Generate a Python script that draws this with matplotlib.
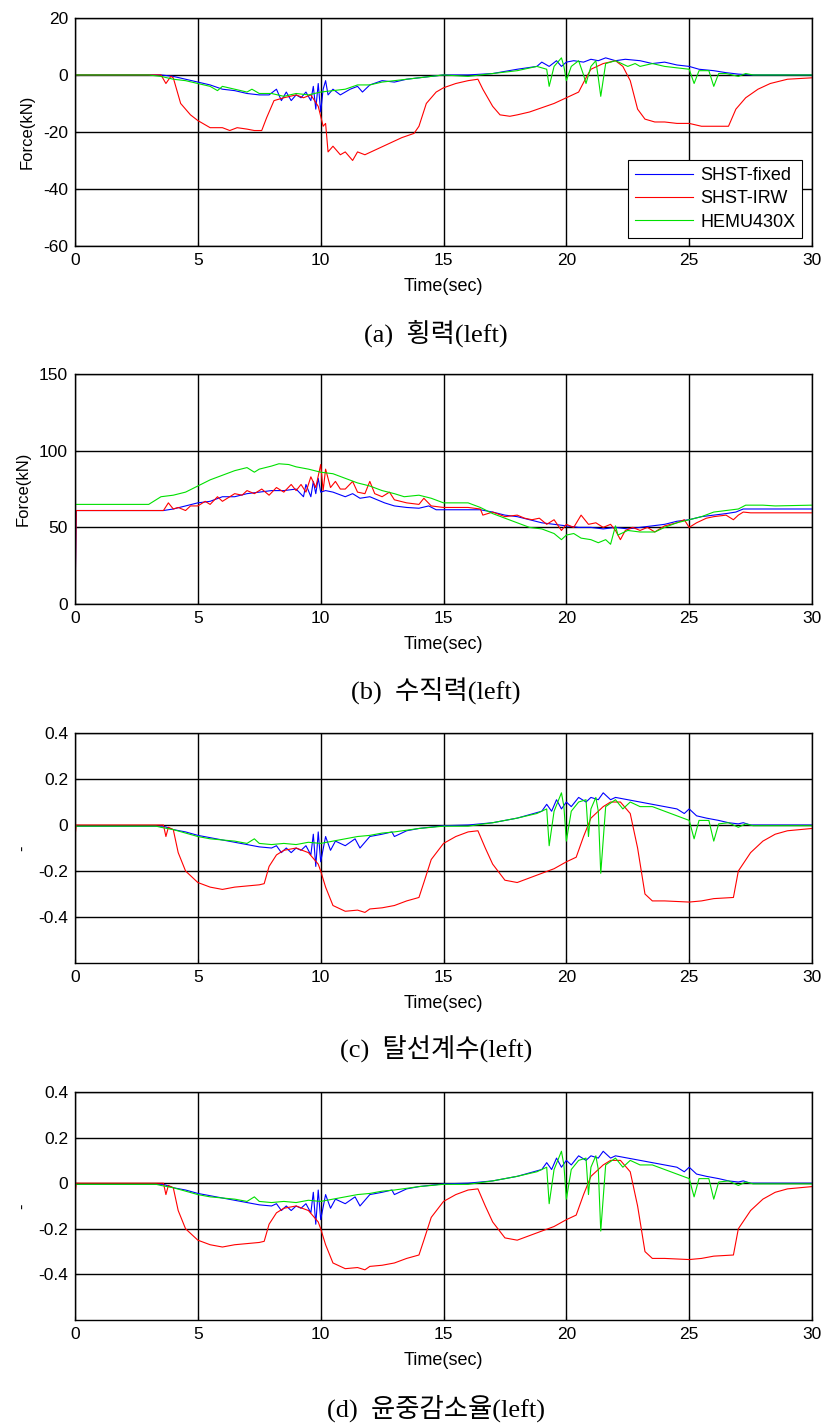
import numpy as np
import matplotlib.pyplot as plt

plt.rcParams['font.family'] = ['Liberation Sans', 'DejaVu Sans']

# (a) 횡력 - lateral force [kN]
t_a_fix = [0, 3.5, 4.0, 4.5, 5.0, 5.5, 6.0, 6.5, 7.0, 7.5, 7.9, 8.2, 8.4, 8.6, 8.8, 9.0, 9.2, 9.4, 9.6, 9.7,
           9.8, 9.9, 10.0, 10.1, 10.2, 10.3, 10.5, 10.8, 11.2, 11.5, 11.7, 12.0, 12.5, 13.0, 13.5, 14.0, 15.0,
           16.0, 17.0, 18.0, 18.8, 19.0, 19.3, 19.6, 19.8, 20.0, 20.3, 20.7, 21.0, 21.3, 21.6, 22.0, 22.4,
           23.0, 23.5, 24.0, 24.5, 25.0, 25.4, 26.0, 26.5, 27.0, 27.5, 30]
v_a_fix = [0, 0, -0.5, -1.5, -2.5, -3.5, -5, -5.5, -6.5, -7, -7, -5, -9, -6, -9, -7, -8, -6, -9, -4,
           -12, -3, -13, -5, -2, -7, -5, -7, -5, -4, -6, -3.5, -2, -2.5, -1.5, -1, 0,
           0, 0.5, 2, 3, 4.5, 3, 5, 3, 4.5, 5, 4.5, 5.5, 5, 6, 5, 5.5,
           5, 4, 4.5, 3.5, 3, 2, 1.5, 0.8, 0.3, 0, 0]
t_a_irw = [0, 3.5, 3.7, 3.9, 4.0, 4.3, 4.7, 5.0, 5.5, 6.0, 6.3, 6.6, 7.0, 7.3, 7.6, 7.8, 8.1, 8.5, 9.0, 9.3,
           9.6, 9.9, 10.1, 10.2, 10.3, 10.5, 10.8, 11.0, 11.3, 11.5, 11.8, 12.3, 12.8, 13.3, 13.8, 14.0,
           14.3, 14.7, 15.0, 15.5, 16.0, 16.4, 16.6, 17.0, 17.3, 17.7, 18.0, 18.5, 19.0, 19.5, 20.0, 20.5,
           20.8, 21.0, 21.5, 22.0, 22.3, 22.6, 22.9, 23.2, 23.6, 24.0, 24.5, 25.0, 25.5, 26.0, 26.6, 26.9,
           27.3, 27.8, 28.3, 29.0, 30]
v_a_irw = [0, 0, -3, -0.5, -1, -10, -14, -16, -18.5, -18.5, -19.5, -18.5, -19, -19.5, -19.5, -15, -9, -8, -7, -8,
           -7, -11, -18, -17, -27, -25, -28, -27, -30, -27, -28, -26, -24, -22, -20.5, -18,
           -10, -6, -4.5, -3, -2, -1.5, -5, -11, -14, -14.5, -14, -13, -11.5, -10, -8, -6,
           -1, 2, 4, 5, 3, -2, -12, -15.5, -16.5, -16.5, -17, -17, -18, -18, -18, -12,
           -8, -5, -3, -1.5, -1]
t_a_hemu = [0, 3.0, 3.5, 4.0, 4.5, 5.0, 5.5, 5.8, 6.0, 6.5, 7.0, 7.2, 7.5, 8.0, 8.5, 9.0, 9.5, 10.0, 10.5, 11.0,
            11.5, 12.0, 12.5, 13.0, 14.0, 15.0, 16.0, 17.0, 18.0, 18.8, 19.2, 19.3, 19.5, 19.8, 19.9, 20.0,
            20.2, 20.5, 20.7, 20.8, 21.0, 21.2, 21.3, 21.4, 21.6, 22.0, 22.5, 22.8, 23.0, 23.5, 24.0, 24.5,
            25.0, 25.2, 25.4, 25.8, 26.0, 26.2, 26.5, 27.0, 27.3, 27.6, 30]
v_a_hemu = [0, 0, -0.5, -1.5, -2, -3, -4, -5.5, -4, -5, -6, -5, -6.5, -6.5, -7.5, -6.5, -7, -6, -5.5, -5,
            -3.5, -3.5, -2.5, -2, -1, 0, -0.5, 0.5, 1.5, 3, 2, -4, 3, 6, 3, -2,
            3, 5, 0, -3, 3, 5, -1, -7.5, 4, 5, 3, 4, 3, 4, 3, 2.5,
            2, -3, 1.5, 1.5, -4, 0.5, 0.5, -0.5, 0.5, 0, 0]

# (b) 수직력 - vertical force [kN]
t_b_fix = [0, 0.05, 3.6, 4.0, 4.5, 5.0, 5.5, 6.0, 6.5, 7.0, 7.5, 8.0, 8.5, 9.0, 9.3, 9.4, 9.6, 9.7, 9.8, 9.9,
           10.0, 10.2, 10.5, 11.0, 11.3, 11.6, 12.0, 12.3, 12.6, 13.0, 13.5, 14.0, 14.4, 14.7, 16.5, 17.0,
           17.5, 18.0, 18.5, 19.0, 19.5, 20.0, 20.5, 21.0, 21.5, 22.0, 22.5, 23.0, 23.5, 24.0, 24.5, 25.0,
           25.5, 26.0, 26.5, 26.9, 27.2, 30]
v_b_fix = [0, 61, 61, 62, 64, 66, 67, 70, 70, 72, 73, 74, 74, 75, 70, 78, 70, 80, 72, 82,
           73, 74, 73, 70, 72, 69, 70, 68, 66, 64, 63, 62.5, 64, 61.5, 61.5, 60,
           58, 57, 55, 53, 52, 51, 50, 50, 49, 50, 49, 50, 51, 52, 54, 55,
           57, 58, 59, 60, 62, 62]
t_b_irw = [0, 0.05, 3.6, 3.8, 4.0, 4.2, 4.5, 4.7, 5.0, 5.3, 5.5, 5.8, 6.0, 6.3, 6.5, 6.8, 7.0, 7.3, 7.6, 7.9,
           8.2, 8.5, 8.8, 9.0, 9.2, 9.4, 9.6, 9.8, 10.0, 10.1, 10.2, 10.4, 10.6, 10.8, 11.0, 11.3, 11.5,
           11.8, 12.0, 12.2, 12.5, 12.8, 13.0, 13.5, 14.0, 14.2, 14.5, 15.0, 16.0, 16.5, 16.6, 17.0, 17.5,
           18.0, 18.3, 18.6, 18.9, 19.2, 19.5, 19.8, 20.0, 20.3, 20.6, 20.9, 21.2, 21.5, 21.8, 22.0, 22.2,
           22.4, 22.7, 23.0, 23.3, 23.6, 24.0, 24.5, 24.8, 25.0, 25.3, 25.7, 26.0, 26.5, 26.8, 27.0, 27.2,
           27.5, 30]
v_b_irw = [0, 61, 61, 66, 62, 63, 61, 64, 64, 67, 65, 70, 67, 70, 72, 71, 74, 72, 75, 71,
           76, 73, 78, 74, 78, 73, 83, 76, 91, 74, 88, 76, 80, 75, 75, 80, 73,
           72, 80, 72, 70, 73, 68, 66, 65, 69, 64, 63, 63, 62, 58, 60, 57,
           58, 56, 55, 56, 52, 55, 48, 52, 50, 58, 52, 53, 50, 52, 48, 42,
           48, 50, 48, 50, 47, 51, 53, 55, 50, 53, 56, 57, 58, 55, 58, 60,
           59.5, 59.5]
t_b_hemu = [0, 3.0, 3.5, 4.0, 4.5, 5.0, 5.5, 6.0, 6.5, 7.0, 7.3, 7.5, 8.0, 8.3, 8.7, 9.0, 9.5, 10.0, 10.5, 11.0,
            11.5, 12.0, 12.5, 13.0, 13.4, 14.0, 14.5, 15.0, 16.0, 16.5, 17.0, 17.5, 18.0, 18.5, 19.0, 19.5,
            19.8, 20.0, 20.3, 20.6, 21.0, 21.3, 21.6, 21.8, 22.0, 22.1, 22.5, 23.0, 23.6, 24.0, 24.5, 25.0,
            25.5, 26.0, 26.5, 27.0, 27.3, 28.0, 28.5, 30]
v_b_hemu = [65, 65, 70, 71, 73, 77, 81, 84, 87, 89, 86, 88, 90, 91.5, 91, 89.5, 88, 86, 85, 82,
            79, 77, 74, 72, 70, 71, 69, 66, 66, 63, 59, 56, 53, 50, 49, 46,
            42, 45, 46, 43, 42, 40, 42, 39, 51, 45, 48, 47, 47, 50, 53, 55,
            57, 60, 61, 62, 64.5, 64.5, 64, 64.5]

# (c) 탈선계수 / (d) 윤중감소율 [-]
t_c_fix = [0, 3.6, 4.0, 4.5, 5.0, 5.5, 6.0, 6.5, 7.0, 7.5, 8.0, 8.2, 8.4, 8.6, 8.8, 9.0, 9.2, 9.4, 9.6, 9.7,
           9.8, 9.9, 10.0, 10.2, 10.4, 10.6, 11.0, 11.4, 11.6, 12.0, 12.5, 12.9, 13.0, 13.5, 14.0, 15.0,
           16.0, 17.0, 18.0, 19.0, 19.2, 19.4, 19.6, 19.8, 20.0, 20.2, 20.5, 20.8, 21.0, 21.3, 21.5, 21.8,
           22.0, 22.5, 23.0, 23.5, 24.0, 24.5, 24.8, 25.0, 25.3, 25.7, 26.2, 26.6, 27.0, 27.2, 27.5, 30]
v_c_fix = [-0.005, -0.005, -0.02, -0.03, -0.045, -0.055, -0.065, -0.075, -0.085, -0.095, -0.1, -0.09, -0.12,
           -0.1, -0.12, -0.1, -0.11, -0.09, -0.13, -0.04, -0.18, -0.03, -0.16, -0.05, -0.11, -0.07, -0.09,
           -0.06, -0.1, -0.05, -0.04, -0.03, -0.05, -0.025, -0.015, -0.003, 0, 0.01, 0.03, 0.06, 0.09,
           0.06, 0.11, 0.07, 0.1, 0.08, 0.12, 0.1, 0.12, 0.11, 0.14, 0.11, 0.12, 0.11, 0.1, 0.09, 0.08,
           0.07, 0.05, 0.07, 0.04, 0.03, 0.02, 0.01, 0.005, 0.01, 0, 0]
t_c_irw = [0, 0.05, 3.6, 3.7, 3.8, 4.0, 4.2, 4.5, 5.0, 5.5, 6.0, 6.5, 7.0, 7.5, 7.7, 7.9, 8.2, 8.5, 9.0, 9.5,
           9.9, 10.0, 10.2, 10.5, 11.0, 11.5, 11.8, 12.0, 12.5, 13.0, 13.5, 14.0, 14.2, 14.5, 15.0, 15.5,
           16.0, 16.4, 16.7, 17.0, 17.5, 18.0, 18.5, 19.0, 19.5, 20.0, 20.4, 20.7, 21.0, 21.5, 21.8, 22.2,
           22.6, 22.9, 23.2, 23.5, 24.0, 25.0, 25.5, 26.0, 26.8, 27.0, 27.5, 28.0, 28.5, 29.0, 30]
v_c_irw = [-0.05, 0, 0, -0.05, -0.01, -0.02, -0.12, -0.2, -0.25, -0.27, -0.28, -0.27, -0.265, -0.26, -0.255,
           -0.18, -0.13, -0.11, -0.1, -0.12, -0.17, -0.2, -0.27, -0.35, -0.375, -0.37, -0.38, -0.365, -0.36,
           -0.35, -0.33, -0.315, -0.25, -0.15, -0.08, -0.05, -0.03, -0.025, -0.1, -0.17, -0.24, -0.25,
           -0.23, -0.21, -0.19, -0.16, -0.14, -0.05, 0.03, 0.08, 0.1, 0.1, 0.05, -0.1, -0.3, -0.33, -0.33,
           -0.335, -0.33, -0.32, -0.315, -0.2, -0.12, -0.07, -0.04, -0.025, -0.015]
t_c_hemu = [0, 3.3, 3.5, 4.0, 4.5, 5.0, 5.5, 6.0, 6.5, 7.0, 7.3, 7.5, 8.0, 8.5, 9.0, 9.5, 10.0, 10.5, 11.0, 11.5,
            12.0, 12.5, 13.0, 14.0, 15.0, 16.0, 17.0, 18.0, 18.8, 19.2, 19.3, 19.5, 19.8, 19.9, 20.0, 20.2,
            20.5, 20.8, 20.9, 21.0, 21.2, 21.3, 21.4, 21.6, 22.0, 22.3, 22.6, 23.0, 23.5, 24.0, 24.5, 25.0,
            25.2, 25.4, 25.8, 26.0, 26.2, 26.6, 27.0, 27.3, 27.6, 30]
v_c_hemu = [-0.005, -0.005, -0.01, -0.02, -0.035, -0.05, -0.06, -0.065, -0.07, -0.08, -0.06, -0.08, -0.085,
            -0.08, -0.085, -0.075, -0.08, -0.07, -0.06, -0.05, -0.045, -0.035, -0.03, -0.015, -0.005, -0.005,
            0.01, 0.03, 0.05, 0.07, -0.09, 0.06, 0.14, 0.08, -0.07, 0.06, 0.1, 0.11, -0.05, 0.07, 0.12, 0.06,
            -0.21, 0.08, 0.11, 0.07, 0.1, 0.08, 0.08, 0.06, 0.04, 0.02, -0.06, 0.02, 0.02, -0.07, 0.005, 0.01,
            -0.01, 0.005, -0.003, -0.003]

names = ['SHST-fixed', 'SHST-IRW', 'HEMU430X']
colors = ['#0000ff', '#ff0000', '#00e000']

panels = [
    dict(rect=[0.0907, 0.8274, 0.8912, 0.1600], ylim=(-60, 20), yticks=[-60, -40, -20, 0, 20],
         ylabel='Force(kN)', caption='(a)  횡력(left)', cy=0.7663,
         data=[(t_a_fix, v_a_fix), (t_a_irw, v_a_irw), (t_a_hemu, v_a_hemu)]),
    dict(rect=[0.0907, 0.5761, 0.8912, 0.1614], ylim=(0, 150), yticks=[0, 50, 100, 150],
         ylabel='Force(kN)', caption='(b)  수직력(left)', cy=0.5158,
         data=[(t_b_fix, v_b_fix), (t_b_irw, v_b_irw), (t_b_hemu, v_b_hemu)]),
    dict(rect=[0.0907, 0.3242, 0.8912, 0.1614], ylim=(-0.6, 0.4), yticks=[-0.4, -0.2, 0, 0.2, 0.4],
         ylabel='-', caption='(c)  탈선계수(left)', cy=0.2646,
         data=[(t_c_fix, v_c_fix), (t_c_irw, v_c_irw), (t_c_hemu, v_c_hemu)]),
    dict(rect=[0.0907, 0.0737, 0.8912, 0.1600], ylim=(-0.6, 0.4), yticks=[-0.4, -0.2, 0, 0.2, 0.4],
         ylabel='-', caption='(d)  윤중감소율(left)', cy=0.0115,
         data=[(t_c_fix, v_c_fix), (t_c_irw, v_c_irw), (t_c_hemu, v_c_hemu)]),
]

fig = plt.figure(figsize=(8.27, 14.25), dpi=100)

for i, p in enumerate(panels):
    ax = fig.add_axes(p['rect'])
    for (t, v), nm, c in zip(p['data'], names, colors):
        ax.plot(t, v, color=c, linewidth=0.8, label=nm)
    ax.set_xlim(0, 30)
    ax.set_ylim(*p['ylim'])
    ax.set_xticks([0, 5, 10, 15, 20, 25, 30])
    ax.set_yticks(p['yticks'])
    ax.set_yticklabels([f'{y:g}' for y in p['yticks']])
    ax.grid(True, color='black', linewidth=1.0)
    ax.set_axisbelow(True)
    ax.tick_params(direction='in', length=3, labelsize=12.5, colors='black', pad=5)
    for s in ax.spines.values():
        s.set_linewidth(1.0)
    ax.set_xlabel('Time(sec)', fontsize=13, labelpad=7)
    ax.set_ylabel(p['ylabel'], fontsize=12, labelpad=6)
    if i == 0:
        leg = ax.legend(loc='lower right', bbox_to_anchor=(0.987, 0.035), fontsize=13,
                        fancybox=False, edgecolor='black', framealpha=1, borderaxespad=0,
                        handlelength=3.2, handletextpad=0.4, labelspacing=0.35, borderpad=0.4)
        leg.get_frame().set_linewidth(0.8)
    fig.text(0.527, p['cy'], p['caption'], ha='center', va='center', fontsize=19,
             family=['Liberation Serif', 'Noto Sans CJK KR'])

fig.savefig('out.png', dpi=100)
